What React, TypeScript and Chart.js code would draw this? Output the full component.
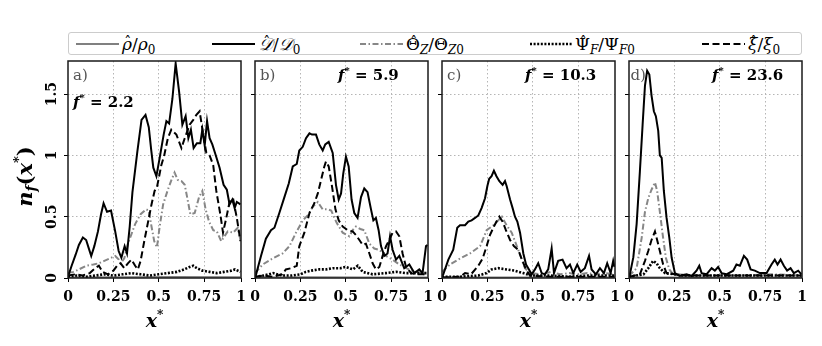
import React, { useEffect, useRef } from 'react';
import { Chart, registerables } from 'chart.js';
Chart.register(...registerables);

// ---------------- data ----------------
const X_MAX = 0.953;
const Y_MAX = 1.77;
const X_TICKS = [0, 0.25, 0.5, 0.75, 0.953];
const X_TICK_LABELS = ['0', '0.25', '0.5', '0.75', '1'];
const Y_TICKS = [0, 0.5, 1, 1.5];
const Y_TICK_LABELS = ['0', '0.5', '1', '1.5'];

const PANEL_LETTERS = ['a)', 'b)', 'c)', 'd)'];
const PANEL_FREQS = ['2.2', '5.9', '10.3', '23.6'];

// panel a (f* = 2.2)
const A_RHO = [[0, 0.005], [0.3, 0.006], [0.6, 0.008], [0.95, 0.006]];
const A_D = [[0, 0.01], [0.02, 0.1], [0.042, 0.19], [0.06, 0.27], [0.082, 0.33], [0.1, 0.31], [0.115, 0.24], [0.128, 0.18], [0.145, 0.26], [0.165, 0.38], [0.182, 0.52], [0.196, 0.61], [0.215, 0.54], [0.237, 0.55], [0.26, 0.38], [0.279, 0.22], [0.294, 0.165], [0.312, 0.26], [0.325, 0.2], [0.34, 0.42], [0.355, 0.7], [0.382, 1.03], [0.405, 1.29], [0.427, 1.33], [0.445, 1.23], [0.458, 1.05], [0.47, 0.9], [0.487, 0.83], [0.505, 0.98], [0.527, 1.17], [0.542, 1.28], [0.557, 1.26], [0.575, 1.46], [0.593, 1.75], [0.612, 1.52], [0.63, 1.25], [0.648, 1.32], [0.663, 1.14], [0.677, 1.21], [0.692, 1.06], [0.71, 1.1], [0.729, 1.1], [0.74, 1.21], [0.753, 1.08], [0.766, 1.28], [0.78, 1.14], [0.795, 1.09], [0.813, 1.005], [0.835, 0.9], [0.857, 0.76], [0.875, 0.72], [0.89, 0.6], [0.905, 0.64], [0.918, 0.57], [0.93, 0.62], [0.95, 0.6]];
const A_THETA = [[0, 0.04], [0.03, 0.05], [0.06, 0.07], [0.1, 0.1], [0.14, 0.11], [0.17, 0.12], [0.2, 0.14], [0.23, 0.16], [0.26, 0.18], [0.28, 0.15], [0.29, 0.12], [0.31, 0.16], [0.33, 0.28], [0.35, 0.36], [0.37, 0.44], [0.4, 0.52], [0.43, 0.56], [0.445, 0.55], [0.46, 0.42], [0.475, 0.3], [0.49, 0.25], [0.505, 0.42], [0.524, 0.6], [0.55, 0.72], [0.57, 0.8], [0.587, 0.86], [0.605, 0.8], [0.625, 0.79], [0.643, 0.76], [0.66, 0.63], [0.674, 0.52], [0.698, 0.53], [0.722, 0.66], [0.74, 0.71], [0.758, 0.56], [0.777, 0.46], [0.8, 0.39], [0.82, 0.38], [0.844, 0.3], [0.862, 0.34], [0.88, 0.38], [0.91, 0.37], [0.935, 0.41], [0.95, 0.31]];
const A_PSI = [[0, 0.01], [0.05, 0.02], [0.1, 0.01], [0.15, 0.02], [0.2, 0.03], [0.25, 0.02], [0.3, 0.03], [0.35, 0.04], [0.4, 0.03], [0.45, 0.02], [0.5, 0.03], [0.55, 0.04], [0.6, 0.05], [0.64, 0.07], [0.67, 0.09], [0.69, 0.1], [0.71, 0.08], [0.74, 0.06], [0.78, 0.05], [0.82, 0.04], [0.86, 0.05], [0.9, 0.06], [0.92, 0.07], [0.95, 0.05]];
const A_XI = [[0, 0.02], [0.04, 0.03], [0.08, 0.02], [0.12, 0.04], [0.15, 0.08], [0.17, 0.1], [0.19, 0.05], [0.22, 0.03], [0.25, 0.06], [0.27, 0.1], [0.29, 0.12], [0.31, 0.08], [0.33, 0.12], [0.35, 0.15], [0.37, 0.1], [0.385, 0.07], [0.4, 0.14], [0.42, 0.3], [0.44, 0.45], [0.46, 0.6], [0.477, 0.71], [0.49, 0.74], [0.514, 0.92], [0.53, 1.0], [0.55, 1.14], [0.569, 1.21], [0.597, 1.17], [0.625, 1.06], [0.643, 1.14], [0.67, 1.25], [0.69, 1.29], [0.707, 1.33], [0.725, 1.36], [0.744, 1.18], [0.762, 1.02], [0.78, 1.0], [0.8, 0.92], [0.817, 0.71], [0.839, 0.52], [0.854, 0.37], [0.872, 0.49], [0.89, 0.62], [0.909, 0.65], [0.93, 0.49], [0.95, 0.3]];

// panel b (f* = 5.9)
const B_RHO = [[0, 0.005], [0.3, 0.006], [0.6, 0.005], [0.95, 0.005]];
const B_D = [[0, 0.01], [0.006, 0.03], [0.033, 0.18], [0.06, 0.32], [0.088, 0.39], [0.107, 0.41], [0.134, 0.53], [0.162, 0.66], [0.186, 0.77], [0.208, 0.91], [0.23, 0.93], [0.244, 1.04], [0.263, 1.07], [0.281, 1.14], [0.3, 1.18], [0.314, 1.17], [0.336, 1.17], [0.354, 1.09], [0.373, 1.04], [0.387, 1.09], [0.406, 1.11], [0.428, 1.02], [0.446, 0.76], [0.461, 0.64], [0.474, 0.69], [0.486, 0.85], [0.501, 0.99], [0.516, 0.91], [0.532, 0.64], [0.547, 0.53], [0.565, 0.49], [0.584, 0.66], [0.602, 0.73], [0.62, 0.7], [0.639, 0.56], [0.652, 0.47], [0.666, 0.49], [0.681, 0.39], [0.694, 0.26], [0.712, 0.18], [0.73, 0.2], [0.744, 0.34], [0.758, 0.23], [0.777, 0.15], [0.795, 0.18], [0.822, 0.08], [0.85, 0.11], [0.878, 0.04], [0.905, 0.07], [0.923, 0.04], [0.942, 0.26], [0.95, 0.27]];
const B_THETA = [[0, 0.04], [0.042, 0.11], [0.097, 0.16], [0.152, 0.2], [0.19, 0.26], [0.226, 0.37], [0.263, 0.47], [0.29, 0.51], [0.318, 0.58], [0.346, 0.62], [0.373, 0.56], [0.4, 0.56], [0.42, 0.55], [0.45, 0.45], [0.483, 0.37], [0.52, 0.34], [0.538, 0.39], [0.556, 0.42], [0.58, 0.4], [0.602, 0.39], [0.63, 0.28], [0.657, 0.24], [0.685, 0.23], [0.722, 0.18], [0.758, 0.15], [0.795, 0.11], [0.832, 0.08], [0.887, 0.05], [0.95, 0.04]];
const B_PSI = [[0, 0.01], [0.05, 0.02], [0.1, 0.04], [0.15, 0.02], [0.2, 0.02], [0.25, 0.03], [0.28, 0.05], [0.31, 0.06], [0.354, 0.07], [0.39, 0.07], [0.428, 0.08], [0.47, 0.08], [0.5, 0.09], [0.54, 0.07], [0.566, 0.1], [0.593, 0.05], [0.648, 0.03], [0.72, 0.04], [0.777, 0.05], [0.83, 0.04], [0.87, 0.04], [0.95, 0.04]];
const B_XI = [[0, 0.01], [0.05, 0.02], [0.1, 0.01], [0.15, 0.03], [0.17, 0.07], [0.2, 0.08], [0.23, 0.1], [0.244, 0.26], [0.272, 0.37], [0.3, 0.53], [0.327, 0.61], [0.346, 0.69], [0.364, 0.8], [0.382, 0.91], [0.391, 0.95], [0.406, 0.91], [0.424, 0.75], [0.443, 0.56], [0.461, 0.47], [0.483, 0.42], [0.51, 0.39], [0.538, 0.38], [0.556, 0.35], [0.575, 0.31], [0.593, 0.27], [0.611, 0.28], [0.63, 0.2], [0.648, 0.12], [0.666, 0.07], [0.685, 0.09], [0.703, 0.18], [0.722, 0.26], [0.74, 0.31], [0.758, 0.37], [0.777, 0.38], [0.795, 0.34], [0.813, 0.2], [0.832, 0.09], [0.86, 0.04], [0.887, 0.03], [0.95, 0.03]];

// panel c (f* = 10.3)
const C_RHO = [[0, 0.005], [0.3, 0.005], [0.6, 0.005], [0.95, 0.005]];
const C_D = [[0, 0.01], [0.007, 0.03], [0.035, 0.15], [0.062, 0.23], [0.084, 0.41], [0.099, 0.43], [0.127, 0.43], [0.145, 0.46], [0.163, 0.47], [0.182, 0.49], [0.2, 0.51], [0.218, 0.57], [0.237, 0.65], [0.25, 0.75], [0.26, 0.81], [0.273, 0.83], [0.286, 0.875], [0.3, 0.83], [0.316, 0.79], [0.334, 0.76], [0.347, 0.79], [0.356, 0.75], [0.375, 0.64], [0.389, 0.57], [0.402, 0.5], [0.415, 0.46], [0.43, 0.37], [0.448, 0.2], [0.463, 0.11], [0.475, 0.08], [0.494, 0.03], [0.512, 0.07], [0.53, 0.12], [0.549, 0.04], [0.567, 0.03], [0.585, 0.07], [0.604, 0.24], [0.617, 0.04], [0.64, 0.14], [0.664, 0.15], [0.686, 0.08], [0.705, 0.11], [0.723, 0.04], [0.745, 0.11], [0.764, 0.05], [0.787, 0.08], [0.81, 0.18], [0.824, 0.07], [0.848, 0.03], [0.87, 0.08], [0.892, 0.04], [0.91, 0.12], [0.929, 0.04], [0.943, 0.14], [0.95, 0.09]];
const C_THETA = [[0, 0.05], [0.044, 0.11], [0.1, 0.16], [0.154, 0.2], [0.21, 0.26], [0.246, 0.39], [0.283, 0.43], [0.31, 0.47], [0.33, 0.5], [0.356, 0.43], [0.384, 0.37], [0.402, 0.3], [0.42, 0.23], [0.44, 0.15], [0.457, 0.08], [0.484, 0.04], [0.55, 0.03], [0.6, 0.05], [0.65, 0.03], [0.7, 0.04], [0.75, 0.03], [0.8, 0.04], [0.85, 0.03], [0.9, 0.04], [0.95, 0.03]];
const C_PSI = [[0, 0.01], [0.1, 0.01], [0.2, 0.02], [0.246, 0.04], [0.273, 0.07], [0.31, 0.08], [0.356, 0.07], [0.4, 0.06], [0.448, 0.04], [0.49, 0.02], [0.6, 0.02], [0.7, 0.01], [0.8, 0.02], [0.95, 0.02]];
const C_XI = [[0, 0.005], [0.1, 0.01], [0.127, 0.04], [0.16, 0.03], [0.2, 0.1], [0.224, 0.16], [0.246, 0.26], [0.264, 0.35], [0.286, 0.42], [0.3, 0.46], [0.316, 0.5], [0.334, 0.46], [0.352, 0.39], [0.375, 0.31], [0.396, 0.26], [0.42, 0.23], [0.44, 0.15], [0.463, 0.07], [0.484, 0.02], [0.6, 0.01], [0.95, 0.01]];

// panel d (f* = 23.6)
const D_RHO = [[0, 0.005], [0.3, 0.005], [0.6, 0.005], [0.95, 0.005]];
const D_D = [[0, 0.01], [0.005, 0.03], [0.024, 0.17], [0.042, 0.44], [0.06, 0.87], [0.075, 1.25], [0.088, 1.57], [0.1, 1.69], [0.112, 1.66], [0.124, 1.49], [0.137, 1.36], [0.148, 1.32], [0.161, 1.2], [0.17, 1.0], [0.18, 0.98], [0.192, 0.71], [0.207, 0.49], [0.222, 0.33], [0.235, 0.165], [0.253, 0.04], [0.28, 0.016], [0.317, 0.03], [0.345, 0.016], [0.372, 0.06], [0.387, 0.1], [0.4, 0.04], [0.427, 0.03], [0.455, 0.08], [0.473, 0.06], [0.491, 0.09], [0.51, 0.04], [0.537, 0.03], [0.574, 0.06], [0.592, 0.11], [0.611, 0.1], [0.633, 0.18], [0.651, 0.15], [0.67, 0.07], [0.693, 0.06], [0.721, 0.04], [0.758, 0.04], [0.785, 0.11], [0.803, 0.15], [0.818, 0.11], [0.835, 0.15], [0.853, 0.1], [0.871, 0.06], [0.89, 0.08], [0.908, 0.04], [0.932, 0.06], [0.95, 0.03]];
const D_THETA = [[0, 0.016], [0.042, 0.08], [0.07, 0.33], [0.088, 0.54], [0.106, 0.65], [0.124, 0.72], [0.143, 0.78], [0.155, 0.71], [0.17, 0.54], [0.185, 0.36], [0.203, 0.165], [0.222, 0.07], [0.244, 0.03], [0.4, 0.02], [0.6, 0.02], [0.8, 0.03], [0.95, 0.02]];
const D_PSI = [[0, 0.01], [0.08, 0.03], [0.106, 0.08], [0.133, 0.14], [0.152, 0.12], [0.17, 0.08], [0.198, 0.04], [0.3, 0.02], [0.95, 0.02]];
const D_XI = [[0, 0.01], [0.06, 0.03], [0.088, 0.14], [0.106, 0.22], [0.124, 0.31], [0.143, 0.38], [0.155, 0.31], [0.17, 0.22], [0.188, 0.11], [0.207, 0.04], [0.3, 0.02], [0.95, 0.02]];

const PANEL_DATA = [
  [A_RHO, A_D, A_THETA, A_PSI, A_XI],
  [B_RHO, B_D, B_THETA, B_PSI, B_XI],
  [C_RHO, C_D, C_THETA, C_PSI, C_XI],
  [D_RHO, D_D, D_THETA, D_PSI, D_XI],
];

// ---------------- styles ----------------
const SERIES_STYLES = [
  { color: '#808080', dash: [], width: 2, order: 5 },
  { color: '#000000', dash: [], width: 2, order: 1 },
  { color: '#878787', dash: [6, 2.5, 1.5, 2.5], width: 2, order: 4 },
  { color: '#000000', dash: [2, 1.6], width: 2.6, order: 3 },
  { color: '#000000', dash: [7, 3.5], width: 2, order: 2 },
];

const PLOT_LEFTS = [68, 255, 442, 629];
const PLOT_W = 173;
const CANVAS_TOP = 50;
const CANVAS_H = 296;
const PAD_TOP = 11;
const X_AXIS_H = 68;
const RIGHT_EXTRA = 12;

const SERIF = "'DejaVu Serif', serif";

function drawRuns(ctx, runs, x, y, align) {
  let total = 0;
  runs.forEach((r) => { ctx.font = r.font; total += ctx.measureText(r.text).width; });
  let cx = align === 'center' ? x - total / 2 : x;
  runs.forEach((r) => {
    ctx.font = r.font;
    ctx.fillText(r.text, cx, y + (r.dy || 0));
    cx += ctx.measureText(r.text).width;
  });
}

function makeTextPlugin(index) {
  return {
    id: 'panelText' + index,
    afterDatasetsDraw(chart) {
      const { ctx, chartArea } = chart;
      const { left, top, right, bottom } = chartArea;
      ctx.save();
      ctx.strokeStyle = '#1a1a1a';
      ctx.lineWidth = 1.5;
      ctx.setLineDash([]);
      ctx.strokeRect(left, top, right - left, bottom - top);
      ctx.restore();
    },
    afterDraw(chart) {
      const { ctx, chartArea } = chart;
      const { left, top, right, bottom } = chartArea;
      ctx.save();
      ctx.textBaseline = 'middle';
      ctx.textAlign = 'left';
      ctx.fillStyle = '#555555';
      ctx.font = `15px ${SERIF}`;
      ctx.fillText(PANEL_LETTERS[index], left + (index === 3 ? 1.5 : 5), top + 15);
      ctx.fillStyle = '#000';
      const fx = index === 0 ? left + 5 : left + 83;
      const fy = index === 0 ? top + 42 : top + 15;
      drawRuns(ctx, [
        { text: 'f', font: `italic bold 15px ${SERIF}` },
        { text: '*', font: `bold 10px ${SERIF}`, dy: -5 },
        { text: ' = ' + PANEL_FREQS[index], font: `bold 15px ${SERIF}` },
      ], fx, fy, 'left');
      drawRuns(ctx, [
        { text: 'x', font: `italic bold 19px ${SERIF}` },
        { text: '*', font: `bold 12px ${SERIF}`, dy: -6 },
      ], (left + right) / 2, bottom + 44, 'center');
      if (index === 0) {
        ctx.translate(27, (top + bottom) / 2 + 7);
        ctx.rotate(-Math.PI / 2);
        drawRuns(ctx, [
          { text: 'n', font: `italic bold 21px ${SERIF}` },
          { text: 'f', font: `italic bold 14px ${SERIF}`, dy: 5 },
          { text: '(', font: `bold 21px ${SERIF}` },
          { text: 'x', font: `italic bold 21px ${SERIF}` },
          { text: '*', font: `bold 13px ${SERIF}`, dy: -7 },
          { text: ')', font: `bold 21px ${SERIF}` },
        ], 0, 0, 'center');
      }
      ctx.restore();
    },
  };
}

function Panel({ index }: { index: number }) {
  const ref = useRef<HTMLCanvasElement | null>(null);
  const leftExtra = index === 0 ? PLOT_LEFTS[0] : 12;
  const canvasLeft = PLOT_LEFTS[index] - leftExtra;
  const canvasW = leftExtra + PLOT_W + RIGHT_EXTRA;

  useEffect(() => {
    const canvas = ref.current;
    if (!canvas) return;
    const series = PANEL_DATA[index];
    const datasets = series.map((pts, si) => {
      const st = SERIES_STYLES[si];
      return {
        data: pts.map((p) => ({ x: p[0], y: p[1] })),
        borderColor: st.color,
        borderWidth: st.width,
        borderDash: st.dash,
        borderCapStyle: 'butt',
        borderJoinStyle: 'miter',
        pointRadius: 0,
        tension: 0,
        fill: false,
        order: st.order,
      };
    });
    const xGridColor = (ctx) => {
      const v = ctx.tick ? ctx.tick.value : 0;
      return v > 0.001 && v < X_MAX - 0.01 ? '#b5b5b5' : 'rgba(0,0,0,0)';
    };
    const yGridColor = (ctx) => {
      const v = ctx.tick ? ctx.tick.value : 0;
      return v > 0.001 && v < Y_MAX - 0.01 ? '#b5b5b5' : 'rgba(0,0,0,0)';
    };
    const chart = new Chart(canvas, {
      type: 'line',
      data: { datasets },
      options: {
        animation: false,
        responsive: false,
        maintainAspectRatio: false,
        layout: { padding: { left: 0, right: RIGHT_EXTRA, top: PAD_TOP, bottom: 0 } },
        plugins: { legend: { display: false }, tooltip: { enabled: false } },
        scales: {
          x: {
            type: 'linear',
            min: 0,
            max: X_MAX,
            afterBuildTicks: (s) => { s.ticks = X_TICKS.map((v) => ({ value: v })); },
            afterFit: (s) => { s.height = X_AXIS_H; },
            grid: { color: xGridColor, lineWidth: 1, drawTicks: true, tickLength: 4, tickColor: '#000', tickWidth: 1 },
            border: { display: false, dash: [1.5, 2.5] },
            ticks: {
              callback: (v, i) => X_TICK_LABELS[i],
              font: { family: SERIF, weight: 'bold', size: 14 },
              color: '#000',
              padding: 7,
              maxRotation: 0,
              minRotation: 0,
            },
          },
          y: {
            type: 'linear',
            min: 0,
            max: Y_MAX,
            afterBuildTicks: (s) => { s.ticks = Y_TICKS.map((v) => ({ value: v })); },
            afterFit: (s) => { s.width = leftExtra; },
            grid: { color: yGridColor, lineWidth: 1, drawTicks: true, tickLength: 4, tickColor: '#000', tickWidth: 1 },
            border: { display: false, dash: [1.5, 2.5] },
            ticks: {
              display: index === 0,
              callback: (v, i) => Y_TICK_LABELS[i],
              font: { family: SERIF, weight: 'bold', size: 14 },
              color: '#000',
              padding: -1,
              minRotation: 90,
              maxRotation: 90,
              crossAlign: 'center',
            },
          },
        },
      },
      plugins: [makeTextPlugin(index)],
    });
    return () => chart.destroy();
  }, [index]);

  return (
    <canvas
      ref={ref}
      width={canvasW}
      height={CANVAS_H}
      style={{ position: 'absolute', left: canvasLeft, top: CANVAS_TOP, width: canvasW, height: CANVAS_H }}
    />
  );
}

// ---------------- legend ----------------
const LEG_LEFT = 68;
const LEG_TOP = 32;
const LEG_W = 734;
const LEG_H = 23;

const subStyle = { fontSize: 12, verticalAlign: -4, lineHeight: 0 };

function Hat({ children, italic }: { children: any; italic?: boolean }) {
  return (
    <span style={{ position: 'relative', display: 'inline-block', fontStyle: italic ? 'italic' : 'normal' }}>
      {children}
      <span style={{ position: 'absolute', left: '50%', top: 2, transform: 'translateX(-40%)', fontStyle: 'normal', fontSize: 14, lineHeight: '14px' }}>ˆ</span>
    </span>
  );
}

const LEGEND_ITEMS = [
  { lineX: 76, textX: 122, s: 0, label: (<><Hat italic>ρ</Hat>/<i>ρ</i><sub style={subStyle}>0</sub></>) },
  { lineX: 212, textX: 259, s: 1, label: (<><Hat italic>𝒟</Hat>/<i>𝒟</i><sub style={subStyle}>0</sub></>) },
  { lineX: 360, textX: 406, s: 2, label: (<><Hat>Θ</Hat><sub style={subStyle}><i>Z</i></sub>/Θ<sub style={subStyle}><i>Z</i>0</sub></>) },
  { lineX: 530, textX: 575, s: 3, label: (<><Hat>Ψ</Hat><sub style={subStyle}><i>F</i></sub>/Ψ<sub style={subStyle}><i>F</i>0</sub></>) },
  { lineX: 702, textX: 748, s: 4, label: (<><Hat italic>ξ</Hat>/<i>ξ</i><sub style={subStyle}>0</sub></>) },
];

function Legend() {
  return (
    <div style={{ position: 'absolute', left: LEG_LEFT, top: LEG_TOP, width: LEG_W, height: LEG_H, border: '1px solid #cccccc', borderRadius: 3, background: '#fff', boxSizing: 'border-box' }}>
      <svg width={LEG_W} height={LEG_H} style={{ position: 'absolute', left: -1, top: -1 }}>
        {LEGEND_ITEMS.map((it, k) => {
          const st = SERIES_STYLES[it.s];
          return (
            <line key={k} x1={it.lineX - LEG_LEFT} x2={it.lineX - LEG_LEFT + 43} y1={12} y2={12}
              stroke={st.color} strokeWidth={st.width} strokeDasharray={st.dash.length ? st.dash.join(' ') : undefined} />
          );
        })}
      </svg>
      {LEGEND_ITEMS.map((it, k) => (
        <span key={k} style={{ position: 'absolute', left: it.textX - LEG_LEFT - 1, top: 0, fontFamily: SERIF, fontSize: 17, lineHeight: '22px', whiteSpace: 'nowrap', color: '#000' }}>
          {it.label}
        </span>
      ))}
    </div>
  );
}

export default function App() {
  return (
    <div style={{ position: 'absolute', left: 0, top: 0, width: 822, height: 346, background: '#fff', overflow: 'hidden' }}>
      <Legend />
      {[0, 1, 2, 3].map((i) => <Panel key={i} index={i} />)}
    </div>
  );
}
